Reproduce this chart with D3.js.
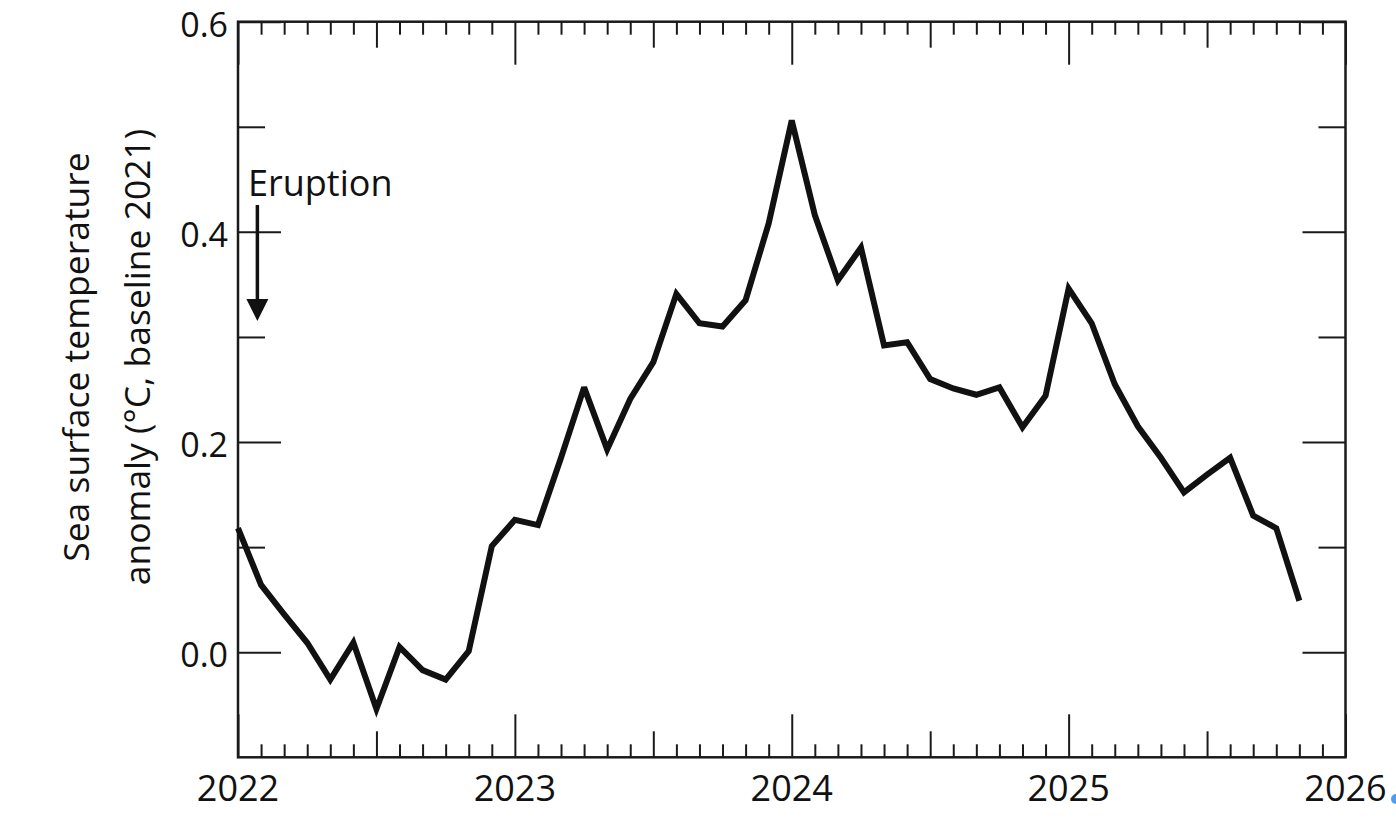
<!DOCTYPE html>
<html>
<head>
<meta charset="utf-8">
<script src="https://cdn.jsdelivr.net/npm/d3@7"></script>
<style>
  html, body { margin: 0; padding: 0; background: #fff; }
  svg { display: block; }
  text { font-family: "Open Sans", "Noto Sans", sans-serif; fill: #111; }
</style>
</head>
<body>
<svg id="chart" width="1396" height="820"></svg>
<script>
// ---- data ----
const startYear = 2022;
const monthIndex = d3.range(0, 47);
const anomaly = [
  0.118, 0.064, 0.036, 0.009, -0.026, 0.009, -0.054, 0.005, -0.017, -0.026, 0.001, 0.101,
  0.126, 0.121, 0.185, 0.252, 0.193, 0.241, 0.276, 0.341, 0.313, 0.310, 0.335, 0.408,
  0.506, 0.416, 0.354, 0.385, 0.292, 0.295, 0.260, 0.251, 0.245, 0.252, 0.214, 0.244,
  0.346, 0.313, 0.255, 0.215, 0.185, 0.152, 0.169, 0.185, 0.130, 0.118, 0.049
];
const yearTicks = [2022, 2023, 2024, 2025, 2026];
const yMajorTicks = [0.0, 0.2, 0.4, 0.6];
const yMinorTicks = [0.1, 0.3, 0.5];
const yLabelLines = ["Sea surface temperature", "anomaly (\u00B0C, baseline 2021)"];
const eruptionLabel = "Eruption";
const eruptionTime = 2022.07;

// ---- layout ----
const L = 238, R = 1345.5, T = 21.7, B = 757.3;
const x = d3.scaleLinear().domain([2022, 2026]).range([L, R]);
const y = d3.scaleLinear().domain([-0.1, 0.6]).range([B, T]);

const svg = d3.select("#chart");

const allMonths = d3.range(0, 49).map(m => startYear + m / 12);
const julyTicks = allMonths.filter((d, i) => i % 12 === 6);
const monthTicks = allMonths.filter((d, i) => i % 12 !== 0 && i % 12 !== 6);

function styleAxis(g) {
  g.select(".domain").remove();
  g.selectAll(".tick line").attr("stroke", "#1a1a1a").attr("stroke-width", 2);
}

// bottom/top axis ticks (inward)
[[yearTicks, 43], [julyTicks, 26], [monthTicks, 13]].forEach(([vals, len]) => {
  svg.append("g").attr("transform", `translate(0,${B})`)
    .call(d3.axisBottom(x).tickValues(vals).tickSize(-len).tickFormat(""))
    .call(styleAxis);
  svg.append("g").attr("transform", `translate(0,${T})`)
    .call(d3.axisTop(x).tickValues(vals).tickSize(-len).tickFormat(""))
    .call(styleAxis);
});

// year labels
svg.append("g").selectAll("text").data(yearTicks).join("text")
  .attr("x", d => x(d)).attr("y", 801)
  .attr("text-anchor", "middle")
  .style("font-size", "36px")
  .text(d => d);

// y ticks
[[yMajorTicks, 43], [yMinorTicks, 27]].forEach(([vals, len]) => {
  svg.append("g").attr("transform", `translate(${L},0)`)
    .call(d3.axisLeft(y).tickValues(vals).tickSize(-len).tickFormat(""))
    .call(styleAxis);
  svg.append("g").attr("transform", `translate(${R},0)`)
    .call(d3.axisRight(y).tickValues(vals).tickSize(-len).tickFormat(""))
    .call(styleAxis);
});

// y labels
svg.append("g").selectAll("text").data(yMajorTicks).join("text")
  .attr("x", 228).attr("y", d => y(d))
  .attr("dy", "0.44em")
  .attr("text-anchor", "end")
  .style("font-size", "34px")
  .text(d => d3.format(".1f")(d));

// frame
svg.append("rect")
  .attr("x", L).attr("y", T).attr("width", R - L).attr("height", B - T)
  .attr("fill", "none").attr("stroke", "#1a1a1a").attr("stroke-width", 2.5);

// y axis title
const yTitle = svg.append("text")
  .attr("transform", `translate(0,357) rotate(-90)`)
  .attr("text-anchor", "middle")
  .style("font-size", "35.5px");
yTitle.selectAll("tspan").data(yLabelLines).join("tspan")
  .attr("x", 0).attr("y", (d, i) => 89 + i * 61)
  .text(d => d);

// data line
const line = d3.line()
  .x((d, i) => x(startYear + monthIndex[i] / 12))
  .y(d => y(d));
svg.append("path")
  .datum(anomaly)
  .attr("d", line)
  .attr("fill", "none")
  .attr("stroke", "#111")
  .attr("stroke-width", 6)
  .attr("stroke-linejoin", "miter")
  .attr("stroke-miterlimit", 3);

// eruption annotation
svg.append("text")
  .attr("x", 248).attr("y", 196)
  .style("font-size", "36px")
  .text(eruptionLabel);
const ax = x(eruptionTime);
svg.append("line")
  .attr("x1", ax).attr("x2", ax).attr("y1", 205).attr("y2", 303)
  .attr("stroke", "#111").attr("stroke-width", 3.5);
svg.append("path")
  .attr("d", `M${ax - 11},299 L${ax + 11},299 L${ax},321 Z`)
  .attr("fill", "#111");

// small blue marker at the right edge of the picture
svg.append("circle").attr("cx", 1396).attr("cy", 799).attr("r", 5).attr("fill", "#4a9ff5");
</script>
</body>
</html>
